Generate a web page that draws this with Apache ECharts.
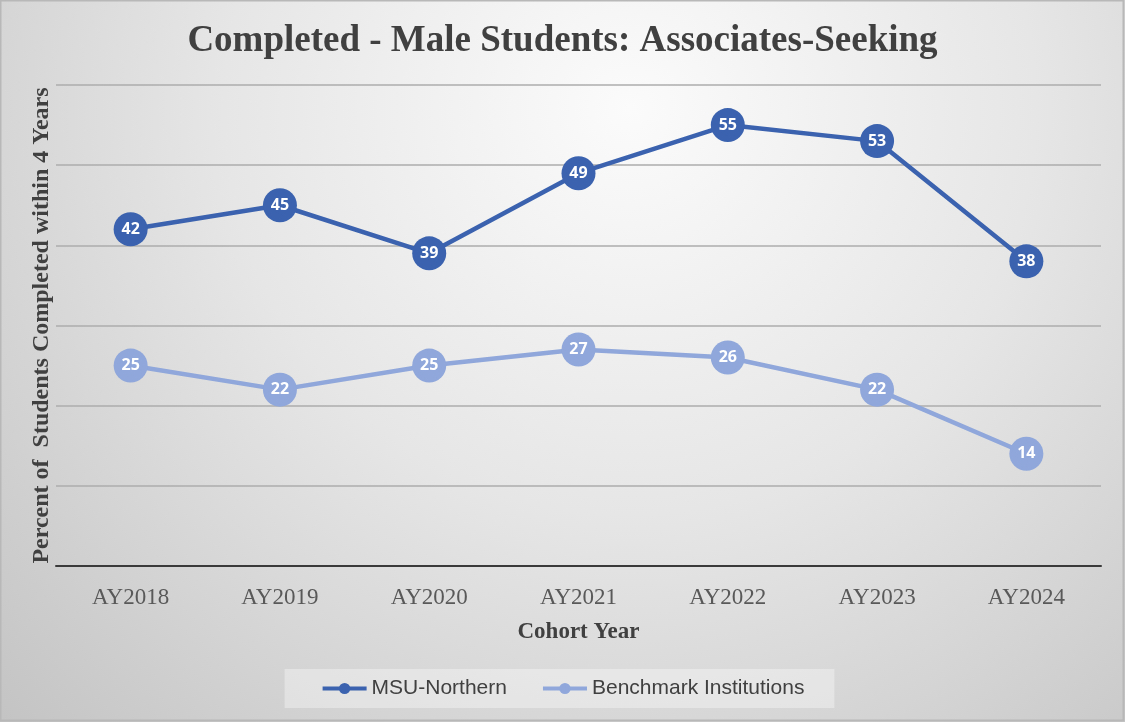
<!DOCTYPE html>
<html>
<head>
<meta charset="utf-8">
<script src="https://cdn.jsdelivr.net/npm/echarts@6/dist/echarts.min.js"></script>
<style>
html, body { margin: 0; padding: 0; }
#main { width: 1125px; height: 722px; }
</style>
</head>
<body>
<div id="main"></div>
<script>
var chart = echarts.init(document.getElementById('main'));

// data
var years = ['AY2018', 'AY2019', 'AY2020', 'AY2021', 'AY2022', 'AY2023', 'AY2024'];
var msuNorthern = [42, 45, 39, 49, 55, 53, 38];
var benchmark = [25, 22, 25, 27, 26, 22, 14];

var serifFont = "'Liberation Serif', 'DejaVu Serif', serif";
var darkBlue = '#3a62ae';
var lightBlue = '#8fa7da';

function lineSeries(name, data, color, z) {
	return {
		name : name,
		type : 'line',
		data : data,
		z : z,
		symbol : 'circle',
		symbolSize : 34,
		lineStyle : { color : color, width : 4.5 },
		itemStyle : { color : color },
		label : {
			show : true,
			position : 'inside',
			color : '#fff',
			fontSize : 16,
			fontWeight : 'bold',
			fontFamily : "'Open Sans', 'Liberation Sans', sans-serif"
		},
		emphasis : { disabled : true },
		animation : false
	};
}

var option = {
	backgroundColor : {
		type : 'radial',
		x : 0.56, y : 0.15, r : 1.25,
		colorStops : [
			{ offset : 0, color : '#fbfbfb' },
			{ offset : 0.45, color : '#e6e6e6' },
			{ offset : 1, color : '#c2c2c2' }
		]
	},
	title : {
		text : 'Completed - Male Students: Associates-Seeking',
		left : 'center',
		top : 18,
		textStyle : {
			fontFamily : serifFont,
			fontSize : 37,
			fontWeight : 'bold',
			color : '#404040'
		}
	},
	legend : {
		top : 669,
		left : 'center',
		padding : [9, 30, 9, 36],
		backgroundColor : 'rgba(255,255,255,0.35)',
		itemWidth : 44,
		itemHeight : 14,
		itemGap : 34,
		lineStyle : { width : 4 },
		textStyle : {
			fontFamily : "'Liberation Sans', sans-serif",
			fontSize : 21,
			color : '#404040'
		},
		data : ['MSU-Northern', 'Benchmark Institutions']
	},
	graphic : [{
		type : 'rect',
		shape : { x : 0.5, y : 0.5, width : 1123, height : 720 },
		style : { fill : 'none', stroke : '#b8b8b8', lineWidth : 2 },
		silent : true
	}],
	grid : {
		left : 56,
		right : 24,
		top : 85,
		bottom : 156
	},
	xAxis : {
		type : 'category',
		data : years,
		name : 'Cohort Year',
		nameLocation : 'middle',
		nameGap : 55,
		nameTextStyle : {
			fontFamily : serifFont,
			fontSize : 23,
			fontWeight : 'bold',
			color : '#404040'
		},
		axisLine : { lineStyle : { color : '#3a3a3a', width : 2 } },
		axisTick : { show : false },
		axisLabel : {
			margin : 20,
			fontFamily : serifFont,
			fontSize : 23,
			color : '#595959'
		}
	},
	yAxis : {
		type : 'value',
		min : 0,
		max : 60,
		interval : 10,
		name : 'Percent of  Students Completed within 4 Years',
		nameLocation : 'middle',
		nameGap : 2,
		nameTextStyle : {
			fontFamily : serifFont,
			fontSize : 24,
			fontWeight : 'bold',
			color : '#404040',
			padding : [0, 0, 0, 0]
		},
		axisLine : { show : false },
		axisTick : { show : false },
		axisLabel : { show : false },
		splitLine : { lineStyle : { color : '#adadad', width : 1.5 } }
	},
	series : [
		lineSeries('MSU-Northern', msuNorthern, darkBlue, 3),
		lineSeries('Benchmark Institutions', benchmark, lightBlue, 2)
	]
};

chart.setOption(option);
</script>
</body>
</html>
